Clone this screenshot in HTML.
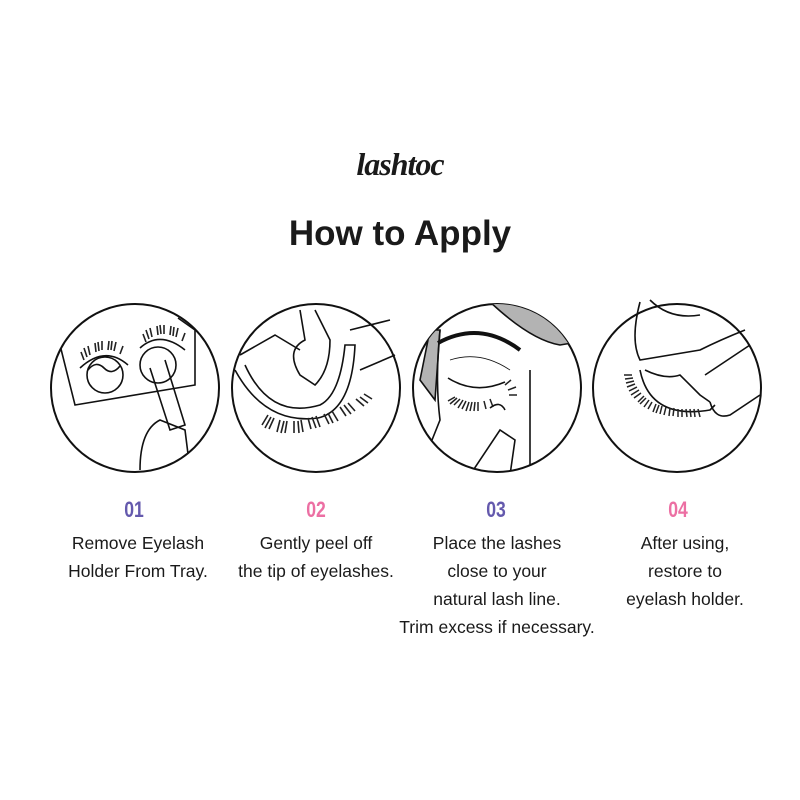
<!DOCTYPE html>
<html><head><meta charset="utf-8"><style>
body{margin:0;width:800px;height:800px;background:#fff;position:relative;overflow:hidden;font-family:"Liberation Sans",sans-serif;color:#1a1a1a}
.t{position:absolute;text-align:center;width:200px}
.n{font-weight:bold;font-size:22px;transform:scaleX(0.8);top:497px}
.d{font-size:17.5px;line-height:28px;top:529px}
</style></head><body>
<div class="t" style="left:300px;top:146px;font-family:'Liberation Serif',serif;font-style:italic;font-weight:bold;font-size:32px;letter-spacing:-1px">lashtoc</div>
<div class="t" style="left:200px;width:400px;top:214px;font-size:35px;font-weight:bold">How to Apply</div>
<svg width="800" height="800" style="position:absolute;left:0;top:0" fill="none" stroke="#111" stroke-width="1.6">
<defs>
<clipPath id="c1"><circle cx="135" cy="388" r="84"/></clipPath>
<clipPath id="c3"><circle cx="497" cy="388" r="84"/></clipPath>
</defs>
<circle cx="135" cy="388" r="84" stroke-width="2"/>
<circle cx="316" cy="388" r="84" stroke-width="2"/>
<circle cx="497" cy="388" r="84" stroke-width="2"/>
<circle cx="677" cy="388" r="84" stroke-width="2"/>
<!-- 1 -->
<g clip-path="url(#c1)">
<path d="M60 345 L75 405 L195 385 L195 330 L178 318"/>
<circle cx="105" cy="375" r="18"/>
<path d="M88 370 Q96 360 104 368 Q112 376 120 366"/>
<path d="M80 368 Q105 345 128 365"/>
<path d="M140 348 Q160 330 185 350"/>
<circle cx="158" cy="365" r="18"/>
<path d="M150 368 L170 430 L185 425 L165 360"/>
<path d="M140 470 Q140 430 160 420 L185 430 L190 470"/>
</g>
<g stroke-width="1.6" stroke="#222">
<path d="M84 360 l-3 -8 M90 355 l-2 -9 M96 352 l-1 -9 M102 350 l0 -9 M108 350 l1 -9 M114 351 l2 -9 M120 354 l3 -8 M87 357 l-3 -9 M99 351 l-1 -9 M111 350 l1 -9"/>
<path d="M146 342 l-3 -8 M152 337 l-2 -9 M158 335 l-1 -9 M164 334 l0 -9 M170 335 l1 -9 M176 337 l2 -9 M182 341 l3 -8 M149 339 l-3 -9 M161 334 l-1 -9 M173 336 l1 -9"/>
</g>
<!-- 2 -->
<path d="M245 365 Q270 420 320 405 Q340 395 345 345 L355 345 Q352 410 318 418 Q265 425 235 370"/>
<path d="M300 310 L305 340 Q285 350 300 375 L315 385 Q330 370 330 340 L315 310"/>
<path d="M240 355 L275 335 L300 350 M350 330 L390 320 M360 370 L395 355"/>
<g stroke-width="1.6" stroke="#222">
<path d="M268 415 l-6 10 M274 418 l-5 11 M280 420 l-3 12 M287 421 l-2 12 M294 421 l0 12 M301 420 l2 12 M308 418 l3 11 M316 416 l4 11 M324 414 l5 10 M332 411 l6 10 M340 407 l6 9 M348 403 l7 8 M356 399 l8 7 M364 394 l8 5 M271 417 l-6 11 M284 421 l-3 12 M298 421 l1 12 M312 417 l4 11 M328 413 l5 10 M344 405 l7 9 M360 397 l8 6"/>
</g>
<!-- 3 -->
<g clip-path="url(#c3)">
<path d="M488 300 Q530 340 560 345 L590 340 L590 300 Z" fill="#b3b3b3"/>
<path d="M430 330 L420 380 L435 400 L440 330 Z" fill="#b3b3b3"/>
<path d="M440 330 Q435 380 440 420 L420 470"/>
<path d="M530 370 L530 475"/>
<path d="M470 475 L500 430 L515 440 L510 475"/>
</g>
<path d="M438 343 Q480 320 520 350" stroke-width="4"/>
<path d="M450 360 Q480 350 510 370" stroke-width="0.8"/>
<path d="M448 378 Q475 395 505 382"/>
<g stroke-width="1.5" stroke="#222">
<path d="M455 397 l-7 4 M460 399 l-6 6 M466 401 l-4 8 M472 402 l-2 9 M478 402 l0 9 M484 401 l2 8 M490 399 l3 8 M505 385 l6 -5 M508 390 l8 -3 M509 395 l8 0 M457 398 l-7 6 M463 400 l-5 8 M469 402 l-3 9 M475 402 l-1 9"/>
</g>
<path d="M490 408 Q500 400 505 410"/>
<!-- 4 -->
<path d="M640 302 Q630 340 640 360 L700 350 Q720 340 745 330"/>
<path d="M650 300 Q670 320 700 315"/>
<path d="M640 370 Q650 420 710 410 L715 405"/>
<path d="M645 370 Q665 380 680 375 Q690 385 700 395 L710 402"/>
<path d="M710 402 Q715 420 730 415 L760 395 M705 375 L750 345"/>
<g stroke-width="1.5" stroke="#222">
<path d="M632 375 l-8 0 M634 381 l-8 2 M637 387 l-8 4 M641 393 l-7 5 M646 398 l-6 6 M652 402 l-4 7 M659 405 l-3 8 M666 407 l-2 8 M674 408 l-1 8 M682 409 l0 8 M690 409 l1 8 M698 409 l2 8 M633 378 l-8 1 M635 384 l-8 3 M639 390 l-8 5 M644 396 l-6 6 M649 400 l-5 7 M656 404 l-3 8 M662 406 l-2 8 M670 408 l-1 8 M678 409 l0 8 M686 409 l1 8 M694 409 l1 8"/>
</g>
</svg>
<div class="t n" style="left:34px;color:#6459ad">01</div>
<div class="t n" style="left:216px;color:#ec6fa3">02</div>
<div class="t n" style="left:396px;color:#6459ad">03</div>
<div class="t n" style="left:578px;color:#ec6fa3">04</div>
<div class="t d" style="left:38px">Remove Eyelash<br>Holder From Tray.</div>
<div class="t d" style="left:216px">Gently peel off<br>the tip of eyelashes.</div>
<div class="t d" style="left:392px;width:210px">Place the lashes<br>close to your<br>natural lash line.<br>Trim excess if necessary.</div>
<div class="t d" style="left:585px">After using,<br>restore to<br>eyelash holder.</div>
</body></html>
